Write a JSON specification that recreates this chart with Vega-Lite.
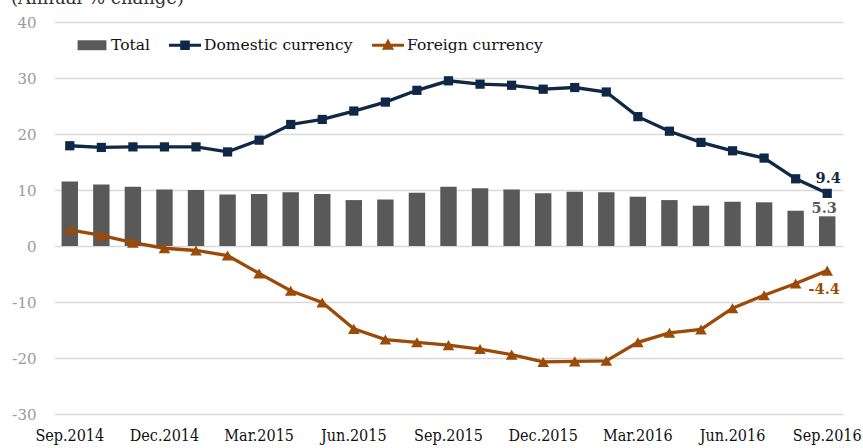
{
  "$schema": "https://vega.github.io/schema/vega-lite/v6.json",
  "width": 789,
  "height": 392,
  "autosize": {"type": "none"},
  "padding": {"left": 54, "top": 22, "right": 20, "bottom": 34},
  "background": "white",
  "title": {
    "text": "(Annual % change)",
    "anchor": "start",
    "frame": "group",
    "orient": "top",
    "offset": -7,
    "baseline": "alphabetic",
    "dx": -43,
    "font": "DejaVu Serif",
    "fontSize": 18,
    "fontWeight": "normal",
    "color": "#333333"
  },
  "data": {
    "values": [
      {"month": "Sep.2014", "Total": 11.5, "Domestic currency": 17.9, "Foreign currency": 2.9},
      {"month": "Oct.2014", "Total": 11.0, "Domestic currency": 17.6, "Foreign currency": 1.9},
      {"month": "Nov.2014", "Total": 10.6, "Domestic currency": 17.7, "Foreign currency": 0.6},
      {"month": "Dec.2014", "Total": 10.1, "Domestic currency": 17.7, "Foreign currency": -0.4},
      {"month": "Jan.2015", "Total": 10.0, "Domestic currency": 17.7, "Foreign currency": -0.8},
      {"month": "Feb.2015", "Total": 9.2, "Domestic currency": 16.8, "Foreign currency": -1.7},
      {"month": "Mar.2015", "Total": 9.3, "Domestic currency": 18.9, "Foreign currency": -4.9},
      {"month": "Apr.2015", "Total": 9.6, "Domestic currency": 21.7, "Foreign currency": -8.0},
      {"month": "May.2015", "Total": 9.3, "Domestic currency": 22.6, "Foreign currency": -10.1},
      {"month": "Jun.2015", "Total": 8.2, "Domestic currency": 24.1, "Foreign currency": -14.8},
      {"month": "Jul.2015", "Total": 8.3, "Domestic currency": 25.7, "Foreign currency": -16.7},
      {"month": "Aug.2015", "Total": 9.5, "Domestic currency": 27.8, "Foreign currency": -17.2},
      {"month": "Sep.2015", "Total": 10.6, "Domestic currency": 29.5, "Foreign currency": -17.7},
      {"month": "Oct.2015", "Total": 10.3, "Domestic currency": 28.9, "Foreign currency": -18.4},
      {"month": "Nov.2015", "Total": 10.1, "Domestic currency": 28.7, "Foreign currency": -19.4},
      {"month": "Dec.2015", "Total": 9.4, "Domestic currency": 28.0, "Foreign currency": -20.7},
      {"month": "Jan.2016", "Total": 9.7, "Domestic currency": 28.3, "Foreign currency": -20.6},
      {"month": "Feb.2016", "Total": 9.6, "Domestic currency": 27.5, "Foreign currency": -20.5},
      {"month": "Mar.2016", "Total": 8.8, "Domestic currency": 23.1, "Foreign currency": -17.2},
      {"month": "Apr.2016", "Total": 8.2, "Domestic currency": 20.5, "Foreign currency": -15.5},
      {"month": "May.2016", "Total": 7.2, "Domestic currency": 18.5, "Foreign currency": -14.9},
      {"month": "Jun.2016", "Total": 7.9, "Domestic currency": 17.0, "Foreign currency": -11.1},
      {"month": "Jul.2016", "Total": 7.8, "Domestic currency": 15.7, "Foreign currency": -8.8},
      {"month": "Aug.2016", "Total": 6.3, "Domestic currency": 12.0, "Foreign currency": -6.7},
      {"month": "Sep.2016", "Total": 5.3, "Domestic currency": 9.4, "Foreign currency": -4.4}
    ]
  },
  "encoding": {
    "x": {
      "field": "month",
      "type": "ordinal",
      "scale": {
        "domain": ["Sep.2014","Oct.2014","Nov.2014","Dec.2014","Jan.2015","Feb.2015","Mar.2015","Apr.2015","May.2015","Jun.2015","Jul.2015","Aug.2015","Sep.2015","Oct.2015","Nov.2015","Dec.2015","Jan.2016","Feb.2016","Mar.2016","Apr.2016","May.2016","Jun.2016","Jul.2016","Aug.2016","Sep.2016"],
        "paddingInner": 0.48,
        "paddingOuter": 0.24
      },
      "axis": {
        "title": null,
        "values": ["Sep.2014","Dec.2014","Mar.2015","Jun.2015","Sep.2015","Dec.2015","Mar.2016","Jun.2016","Sep.2016"],
        "labelAngle": 0,
        "domain": false,
        "ticks": false,
        "grid": false,
        "labelPadding": 13,
        "labelFont": "DejaVu Serif Condensed, DejaVu Serif",
        "labelFontSize": 16,
        "labelColor": "#111111"
      }
    }
  },
  "layer": [
    {
      "mark": {"type": "bar", "color": "#595959"},
      "encoding": {
        "y": {
          "field": "Total",
          "type": "quantitative",
          "scale": {"domain": [-30, 40], "nice": false},
          "axis": {
            "title": null,
            "values": [-30, -20, -10, 0, 10, 20, 30, 40],
            "domain": false,
            "ticks": false,
            "tickSize": 0,
            "grid": true,
            "gridColor": "#d9d9d9",
            "gridWidth": 1.5,
            "labelPadding": 18,
            "labelFont": "DejaVu Serif",
            "labelFontSize": 15,
            "labelColor": "#9a9a9a"
          }
        },
        "color": {"datum": "Total", "type": "nominal"}
      }
    },
    {
      "transform": [{"fold": ["Domestic currency", "Foreign currency"], "as": ["series", "value"]}],
      "mark": {"type": "line", "strokeWidth": 3.3},
      "encoding": {
        "y": {"field": "value", "type": "quantitative"},
        "color": {
          "field": "series",
          "type": "nominal",
          "scale": {
            "domain": ["Total", "Domestic currency", "Foreign currency"],
            "range": ["#595959", "#0f2846", "#9c4a08"]
          },
          "legend": {
            "title": null,
            "orient": "none",
            "direction": "horizontal",
            "legendX": 22,
            "legendY": 7,
            "padding": 0,
            "symbolSize": 1024,
            "labelOffset": 3,
            "columnPadding": 19,
            "labelFont": "DejaVu Serif",
            "labelFontSize": 15.5,
            "labelColor": "#111111",
            "encode": {
              "symbols": {
                "update": {
                  "shape": {"signal": "datum.value === 'Total' ? 'M-0.9,-0.31H0.9V0.31H-0.9Z' : datum.value === 'Domestic currency' ? 'M-1,-0.1H1V0.1H-1Z M-0.3,-0.3H0.3V0.3H-0.3Z' : 'M-1,-0.1H1V0.1H-1Z M0,-0.42L0.38,0.28H-0.38Z'"},
                  "size": {"value": 1024},
                  "fill": {"scale": "color", "field": "value"},
                  "stroke": {"value": "transparent"},
                  "strokeWidth": {"value": 0},
                  "opacity": {"value": 1}
                }
              }
            }
          }
        }
      }
    },
    {
      "transform": [{"fold": ["Domestic currency", "Foreign currency"], "as": ["series", "value"]}],
      "mark": {"type": "point", "filled": true, "opacity": 1},
      "encoding": {
        "y": {"field": "value", "type": "quantitative"},
        "color": {"field": "series", "type": "nominal"},
        "shape": {
          "field": "series",
          "type": "nominal",
          "scale": {"domain": ["Domestic currency", "Foreign currency"], "range": ["square", "triangle-up"]},
          "legend": null
        },
        "size": {
          "field": "series",
          "type": "nominal",
          "scale": {"domain": ["Domestic currency", "Foreign currency"], "range": [85, 135]},
          "legend": null
        }
      }
    },
    {
      "transform": [{"filter": "datum.month === 'Sep.2016'"}],
      "mark": {"type": "text", "dy": -14, "dx": 1, "font": "DejaVu Serif", "fontSize": 14.5, "fontWeight": "bold", "color": "#0f2846", "baseline": "middle"},
      "encoding": {
        "y": {"field": "Domestic currency", "type": "quantitative"},
        "text": {"field": "Domestic currency", "type": "quantitative", "format": ".1f"}
      }
    },
    {
      "transform": [{"filter": "datum.month === 'Sep.2016'"}],
      "mark": {"type": "text", "dy": -7, "dx": -3, "font": "DejaVu Serif", "fontSize": 14.5, "fontWeight": "bold", "color": "#595959", "baseline": "middle"},
      "encoding": {
        "y": {"field": "Total", "type": "quantitative"},
        "text": {"field": "Total", "type": "quantitative", "format": ".1f"}
      }
    },
    {
      "transform": [{"filter": "datum.month === 'Sep.2016'"}],
      "mark": {"type": "text", "dy": 19, "dx": -3, "font": "DejaVu Serif", "fontSize": 14.5, "fontWeight": "bold", "color": "#9c4a08", "baseline": "middle"},
      "encoding": {
        "y": {"field": "Foreign currency", "type": "quantitative"},
        "text": {"field": "Foreign currency", "type": "quantitative", "format": ".1f"}
      }
    }
  ],
  "config": {
    "view": {"stroke": null},
    "locale": {
      "number": {"decimal": ".", "thousands": ",", "grouping": [3], "currency": ["$", ""], "minus": "-"}
    }
  }
}
